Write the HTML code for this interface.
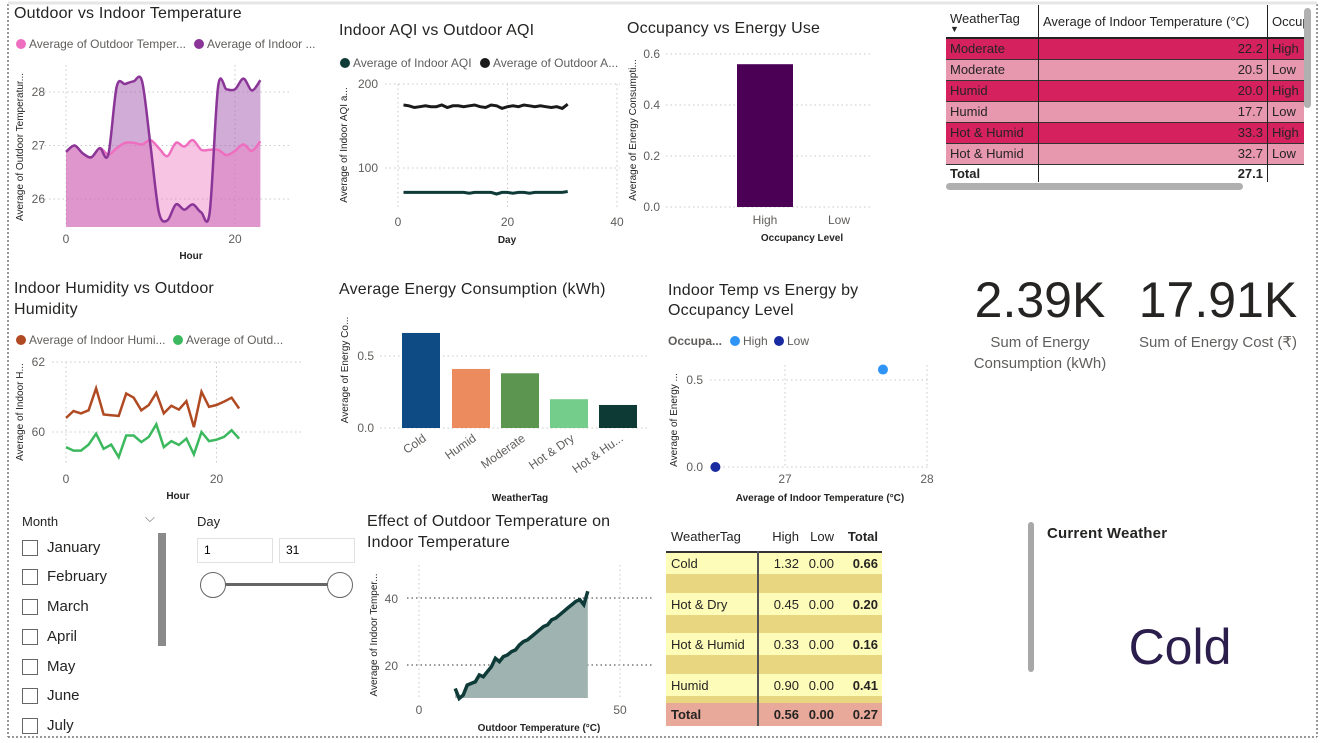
<!DOCTYPE html>
<html><head><meta charset="utf-8">
<style>
body{margin:0;width:1342px;height:743px;overflow:hidden;background:#fff;font-family:"Liberation Sans",sans-serif;position:relative}
.abs{position:absolute}
.t{position:absolute;font-size:16px;color:#252423;letter-spacing:0.2px}
svg text{font-family:"Liberation Sans",sans-serif}
table{border-collapse:collapse;font-size:13px}
.cb{position:absolute;left:22px;width:14px;height:14px;border:1px solid #666;background:#fff}
.cl{position:absolute;left:47px;font-size:15px;color:#252423}
</style></head><body>
<svg id="s" class="abs" style="left:0;top:0" width="1342" height="743">
 <line x1="8" y1="4" x2="8" y2="737" stroke="#777" stroke-dasharray="2,2" stroke-width="1.5"/>
 <line x1="1317" y1="4" x2="1317" y2="737" stroke="#777" stroke-dasharray="2,2" stroke-width="1.5"/>
 <line x1="8" y1="737" x2="1317" y2="737" stroke="#777" stroke-dasharray="2,2" stroke-width="1.5"/>
 <line x1="8" y1="3" x2="1317" y2="3" stroke="#e6e6e6" stroke-width="3"/>
 <g id="g"></g>
</svg>

<div class="t" style="left:14px;top:5px">Outdoor vs Indoor Temperature</div>
<div class="t" style="left:339px;top:22px">Indoor AQI vs Outdoor AQI</div>
<div class="t" style="left:627px;top:20px">Occupancy vs Energy Use</div>
<div class="t" style="left:14px;top:278px;line-height:21px">Indoor Humidity vs Outdoor<br>Humidity</div>
<div class="t" style="left:339px;top:281px">Average Energy Consumption (kWh)</div>
<div class="t" style="left:668px;top:281px;line-height:20px">Indoor Temp vs Energy by<br>Occupancy Level</div>
<div class="t" style="left:367px;top:511px;line-height:21px">Effect of Outdoor Temperature on<br>Indoor Temperature</div>

<!-- top-right table -->
<div class="abs" style="left:946px;top:5px;width:358px;height:180px;overflow:hidden">
<table style="width:400px;font-size:13px;color:#252423">
<tr style="height:33px;border-bottom:2px solid #222"><td style="width:84px;padding:0 4px;vertical-align:top;padding-top:6px;border-right:1px solid #222">WeatherTag<div style="font-size:9px;line-height:7px">▼</div></td><td style="width:220px;padding:0 4px;border-right:1px solid #222">Average of Indoor Temperature (°C)</td><td style="padding:0 4px">Occupancy</td></tr>
<tr style="height:21px;background:#d6215f;border-bottom:1px solid #333"><td style="padding:0 4px;border-right:1px solid #222">Moderate</td><td style="text-align:right;padding:0 4px;border-right:1px solid #222">22.2</td><td style="padding:0 4px">High</td></tr>
<tr style="height:21px;background:#e797ae;border-bottom:1px solid #333"><td style="padding:0 4px;border-right:1px solid #222">Moderate</td><td style="text-align:right;padding:0 4px;border-right:1px solid #222">20.5</td><td style="padding:0 4px">Low</td></tr>
<tr style="height:21px;background:#d6215f;border-bottom:1px solid #333"><td style="padding:0 4px;border-right:1px solid #222">Humid</td><td style="text-align:right;padding:0 4px;border-right:1px solid #222">20.0</td><td style="padding:0 4px">High</td></tr>
<tr style="height:21px;background:#e797ae;border-bottom:1px solid #333"><td style="padding:0 4px;border-right:1px solid #222">Humid</td><td style="text-align:right;padding:0 4px;border-right:1px solid #222">17.7</td><td style="padding:0 4px">Low</td></tr>
<tr style="height:21px;background:#d6215f;border-bottom:1px solid #333"><td style="padding:0 4px;border-right:1px solid #222">Hot &amp; Humid</td><td style="text-align:right;padding:0 4px;border-right:1px solid #222">33.3</td><td style="padding:0 4px">High</td></tr>
<tr style="height:21px;background:#e797ae;border-bottom:1px solid #333"><td style="padding:0 4px;border-right:1px solid #222">Hot &amp; Humid</td><td style="text-align:right;padding:0 4px;border-right:1px solid #222">32.7</td><td style="padding:0 4px">Low</td></tr>
<tr style="height:18px;font-weight:bold"><td style="padding:0 4px;border-right:1px solid #222">Total</td><td style="text-align:right;padding:0 4px;border-right:1px solid #222">27.1</td><td style="border-right:1px solid #222"></td></tr>
</table></div>
<div class="abs" style="left:1304px;top:8px;width:7px;height:100px;background:#b0b0b0;border-radius:4px"></div>
<div class="abs" style="left:946px;top:183px;width:297px;height:7px;background:#b0b0b0;border-radius:4px"></div>

<!-- KPI cards -->
<div class="abs" style="left:950px;top:270px;width:180px;text-align:center">
<div style="font-size:50px;color:#252423;line-height:60px">2.39K</div>
<div style="font-size:15px;color:#605e5c;line-height:21px;margin-top:2px">Sum of Energy<br>Consumption (kWh)</div></div>
<div class="abs" style="left:1125px;top:270px;width:186px;text-align:center">
<div style="font-size:50px;color:#252423;line-height:60px">17.91K</div>
<div style="font-size:15px;color:#605e5c;line-height:21px;margin-top:2px">Sum of Energy Cost (₹)</div></div>

<!-- current weather -->
<div class="abs" style="left:1028px;top:522px;width:6px;height:150px;background:#a8a8a8;border-radius:3px"></div>
<div class="t" style="left:1047px;top:525px;font-weight:bold;font-size:15px">Current Weather</div>
<div class="abs" style="left:1100px;top:618px;width:160px;text-align:center;font-size:50px;color:#2c1e4c">Cold</div>

<!-- matrix -->
<div class="abs" style="left:666px;top:522px">
<table style="width:216px;font-size:13px;color:#252423">
<tr style="height:30px;border-bottom:2px solid #333"><td style="width:86px;padding-left:5px">WeatherTag</td><td style="width:40px;text-align:right;padding-right:4px">High</td><td style="width:30px;text-align:right;padding-right:4px">Low</td><td style="text-align:right;padding-right:4px;font-weight:bold">Total</td></tr>
<tr style="height:22px;background:#fdfcb8"><td style="padding-left:5px;border-right:2px solid #555">Cold</td><td style="text-align:right;padding-right:4px">1.32</td><td style="text-align:right;padding-right:4px">0.00</td><td style="text-align:right;padding-right:4px;font-weight:bold">0.66</td></tr>
<tr style="height:19px;background:#e8d680"><td style="border-right:2px solid #555"></td><td></td><td></td><td></td></tr>
<tr style="height:22px;background:#fdfcb8"><td style="padding-left:5px;border-right:2px solid #555">Hot &amp; Dry</td><td style="text-align:right;padding-right:4px">0.45</td><td style="text-align:right;padding-right:4px">0.00</td><td style="text-align:right;padding-right:4px;font-weight:bold">0.20</td></tr>
<tr style="height:18px;background:#e8d680"><td style="border-right:2px solid #555"></td><td></td><td></td><td></td></tr>
<tr style="height:22px;background:#fdfcb8"><td style="padding-left:5px;border-right:2px solid #555">Hot &amp; Humid</td><td style="text-align:right;padding-right:4px">0.33</td><td style="text-align:right;padding-right:4px">0.00</td><td style="text-align:right;padding-right:4px;font-weight:bold">0.16</td></tr>
<tr style="height:19px;background:#e8d680"><td style="border-right:2px solid #555"></td><td></td><td></td><td></td></tr>
<tr style="height:22px;background:#fdfcb8"><td style="padding-left:5px;border-right:2px solid #555">Humid</td><td style="text-align:right;padding-right:4px">0.90</td><td style="text-align:right;padding-right:4px">0.00</td><td style="text-align:right;padding-right:4px;font-weight:bold">0.41</td></tr>
<tr style="height:7px;background:#e8d680"><td style="border-right:2px solid #555"></td><td></td><td></td><td></td></tr>
<tr style="height:23px;background:#e8a89a;font-weight:bold"><td style="padding-left:5px;border-right:2px solid #555">Total</td><td style="text-align:right;padding-right:4px">0.56</td><td style="text-align:right;padding-right:4px">0.00</td><td style="text-align:right;padding-right:4px">0.27</td></tr>
</table></div>

<!-- slicers -->
<div class="abs" style="left:22px;top:514px;font-size:13px;color:#252423">Month</div>
<div class="abs" style="left:145px;top:510px;font-size:13px;color:#666">⌵</div>
<div class="abs" style="left:158px;top:533px;width:8px;height:113px;background:#8a8a8a"></div>
<div class="cb" style="top:540px"></div><div class="cl" style="top:539px">January</div>
<div class="cb" style="top:569px"></div><div class="cl" style="top:568px">February</div>
<div class="cb" style="top:599px"></div><div class="cl" style="top:598px">March</div>
<div class="cb" style="top:629px"></div><div class="cl" style="top:628px">April</div>
<div class="cb" style="top:659px"></div><div class="cl" style="top:658px">May</div>
<div class="cb" style="top:688px"></div><div class="cl" style="top:687px">June</div>
<div class="cb" style="top:718px"></div><div class="cl" style="top:717px">July</div>
<div class="abs" style="left:197px;top:514px;font-size:13px;color:#252423">Day</div>
<div class="abs" style="left:197px;top:538px;width:68px;height:23px;border:1px solid #e1e1e1;font-size:12px;line-height:23px;padding-left:6px">1</div>
<div class="abs" style="left:279px;top:538px;width:68px;height:23px;border:1px solid #e1e1e1;font-size:12px;line-height:23px;padding-left:6px">31</div>
<div class="abs" style="left:213px;top:583px;width:127px;height:3px;background:#666"></div>
<div class="abs" style="left:200px;top:572px;width:24px;height:24px;border:1.5px solid #666;border-radius:50%;background:#fff"></div>
<div class="abs" style="left:327px;top:572px;width:24px;height:24px;border:1.5px solid #666;border-radius:50%;background:#fff"></div>

<script>
// ---- chart data ----
const hours = [0,1,2,3,4,5,6,7,8,9,10,11,12,13,14,15,16,17,18,19,20,21,22,23];
const outdoorTemp = [26.88,27.0,26.85,26.78,26.95,26.83,26.95,27.05,27.05,27.02,27.1,26.95,26.8,27.05,26.98,27.1,26.92,26.92,26.92,26.82,26.9,27.02,26.9,27.08];
const indoorTemp = [26.88,27.0,26.85,26.78,26.95,26.83,28.1,28.15,28.2,28.2,27.0,25.75,25.6,25.9,25.8,25.9,25.75,25.75,28.1,28.05,28.05,28.25,28.03,28.22];
const tempTicks = [26,27,28];
const days = [1,2,3,4,5,6,7,8,9,10,11,12,13,14,15,16,17,18,19,20,21,22,23,24,25,26,27,28,29,30,31];
const outdoorAQI = [175,174,172,173,174,173,173,175,172,174,174,173,174,175,173,172,175,174,171,173,174,173,175,174,173,174,173,172,173,171,176];
const indoorAQI = [71,71,71,71,71,71,71,71,71,71,71,71,70,71,71,71,71,69,71,71,70,71,71,70,71,71,71,71,71,71,72];
const aqiTicks = [100,200];
const dayTicks = [0,20,40];
const occLevels = ['High','Low'];
const occEnergy = [0.56,0];
const occTicks = [0.0,0.2,0.4,0.6];
const indoorHum = [60.4,60.6,60.53,60.62,61.25,60.5,60.48,60.46,61.1,60.98,60.62,60.77,61.12,60.53,60.75,60.64,60.88,60.14,61.15,60.72,60.77,60.87,60.98,60.67];
const outdoorHum = [59.57,59.47,59.47,59.64,59.95,59.52,59.64,59.28,59.9,59.9,59.71,59.86,60.22,59.57,59.74,59.63,59.81,59.36,60.0,59.74,59.78,59.86,60.05,59.81];
const humTicks = [60,62];
const weatherTags = ['Cold','Humid','Moderate','Hot & Dry','Hot & Hu...'];
const avgEnergy = [0.66,0.41,0.38,0.20,0.16];
const barColors = ['#0e4a84','#ec8c5e','#5b9550','#74cd8a','#0d3a35'];
const energyTicks = [0.0,0.5];
const scatterOcc = ['High','Low'];
const scatterTemp = [27.69,26.51];
const scatterEnergy = [0.56,0.0];
const outdoorT = [9,10,11,12,13,14,15,16,17,18,19,20,21,22,23,24,25,26,27,28,29,30,31,32,33,34,35,36,37,38,39,40,41,42];
const indoorT = [13,10,11,14,14.5,15,17,16.5,18,19.5,22,21,22.5,23,24,24.5,26,27,27.5,28.5,29.5,30.5,31.5,32,33.5,34,35,36,37,38,39,39.5,38,42];

const NS='http://www.w3.org/2000/svg';
const G=document.getElementById('g');
function el(tag,attrs,parent,name,inter){const e=document.createElementNS(NS,tag);for(const k in attrs)e.setAttribute(k,attrs[k]);(parent||G).appendChild(e);


return e;}
function txt(x,y,s,opts,name){const e=el('text',Object.assign({x:x,y:y,'font-size':12,fill:'#605e5c'},opts||{}),G,name||'label');e.textContent=s;return e;}
function lin(d0,d1,r0,r1){return v=>r0+(v-d0)/(d1-d0)*(r1-r0);}
function hgrid(y,x0,x1){el('line',{x1:x0,x2:x1,y1:y,y2:y,stroke:'#c8c8c8','stroke-dasharray':'1.5,3'},G,'gridline');}
function vgrid(x,y0,y1){el('line',{x1:x,x2:x,y1:y0,y2:y1,stroke:'#c8c8c8','stroke-dasharray':'1.5,3'},G,'gridline');}
function legend(x,y,items){let cx=x;items.forEach(it=>{el('circle',{cx:cx+5,cy:y-4,r:5,fill:it[1]},G,'legend-marker');const t=txt(cx+13,y,it[0],{'font-size':12},'legend-entry');cx+=it[2];});}
function ytitle(x,y,s){txt(0,0,s,{'font-size':10,fill:'#252423',transform:`translate(${x},${y}) rotate(-90)`,'text-anchor':'middle'},'y-axis-title');}
function path(xs,ys,sx,sy){return xs.map((v,i)=>(i?'L':'M')+sx(v).toFixed(1)+','+sy(ys[i]).toFixed(1)).join('');}
function spath(xs,ys,sx,sy){const P=xs.map((v,i)=>[sx(v),sy(ys[i])]);let d='M'+P[0][0]+','+P[0][1];
 for(let i=0;i<P.length-1;i++){const p0=P[i-1]||P[i],p1=P[i],p2=P[i+1],p3=P[i+2]||p2;const t=0.16;
 d+=`C${(p1[0]+(p2[0]-p0[0])*t).toFixed(1)},${(p1[1]+(p2[1]-p0[1])*t).toFixed(1)} ${(p2[0]-(p3[0]-p1[0])*t).toFixed(1)},${(p2[1]-(p3[1]-p1[1])*t).toFixed(1)} ${p2[0].toFixed(1)},${p2[1].toFixed(1)}`;}return d;}

// Chart 1 temp
(function(){const sx=lin(0,20,66,235),sy=lin(26,28,199,92),base=227;
 tempTicks.forEach(t=>{hgrid(sy(t),40,290);txt(45,sy(t)+4,t,{'font-size':12,'text-anchor':'end'},'y-tick');});
 [0,20].forEach(t=>{vgrid(sx(t),65,227);txt(sx(t),243,t,{'text-anchor':'middle'},'x-tick');});
 const area=(ys)=>spath(hours,ys,sx,sy)+`L${sx(23)},${base}L${sx(0)},${base}Z`;
 el('path',{d:area(indoorTemp),fill:'#a45aae','fill-opacity':0.5},G,'indoor-area');
 el('path',{d:area(outdoorTemp),fill:'#ee7cc4','fill-opacity':0.45},G,'outdoor-area');
 el('path',{d:spath(hours,outdoorTemp,sx,sy),fill:'none',stroke:'#ee6fbf','stroke-width':2.5},G,'outdoor-line');
 el('path',{d:spath(hours,indoorTemp,sx,sy),fill:'none',stroke:'#8a3597','stroke-width':2.5},G,'indoor-line');
 legend(16,48,[['Average of Outdoor Temper...','#ee6fbf',178],['Average of Indoor ...','#8a3597',0]]);
 ytitle(23,147,'Average of Outdoor Temperatur...');
 txt(191,259,'Hour',{'font-size':10,fill:'#252423','text-anchor':'middle','font-weight':'bold'},'x-axis-title');
})();
// Chart 2 AQI
(function(){const sx=lin(0,40,398,617),sy=lin(100,200,168,84);
 aqiTicks.forEach(t=>{hgrid(sy(t),385,620);txt(378,sy(t)+4,t,{'text-anchor':'end'},'y-tick');});
 dayTicks.forEach(t=>{vgrid(sx(t),84,207);txt(sx(t),226,t,{'text-anchor':'middle'},'x-tick');});
 el('path',{d:path(days,outdoorAQI,sx,sy),fill:'none',stroke:'#1a1a1a','stroke-width':3},G,'outdoor-aqi-line');
 el('path',{d:path(days,indoorAQI,sx,sy),fill:'none',stroke:'#0e3b37','stroke-width':3},G,'indoor-aqi-line');
 legend(340,67,[['Average of Indoor AQI','#0e3b37',140],['Average of Outdoor A...','#1a1a1a',0]]);
 ytitle(347,145,'Average of Indoor AQI a...');
 txt(507,243,'Day',{'font-size':10,fill:'#252423','text-anchor':'middle','font-weight':'bold'},'x-axis-title');
})();
// Chart 3 occupancy
(function(){const sy=lin(0,0.6,207,54),cx=[765,839];
 occTicks.forEach(t=>{hgrid(sy(t),666,870);txt(660,sy(t)+4,t.toFixed(1),{'text-anchor':'end'},'y-tick');});
 occLevels.forEach((c,i)=>{el('rect',{x:cx[i]-28,y:sy(occEnergy[i]),width:56,height:sy(0)-sy(occEnergy[i]),fill:'#4b0055'},G,'bar-'+c.toLowerCase());txt(cx[i],224,c,{'text-anchor':'middle'},'x-tick');});
 ytitle(636,130,'Average of Energy Consumpti...');
 txt(802,241,'Occupancy Level',{'font-size':10,fill:'#252423','text-anchor':'middle','font-weight':'bold'},'x-axis-title');
})();
// Chart 4 humidity
(function(){const sx=lin(0,20,66,216.5),sy=lin(60,62,432,362);
 humTicks.forEach(t=>{hgrid(sy(t),52,302);txt(45,sy(t)+4,t,{'text-anchor':'end'},'y-tick');});
 [0,20].forEach(t=>{vgrid(sx(t),362,465);txt(sx(t),483,t,{'text-anchor':'middle'},'x-tick');});
 el('path',{d:path(hours,indoorHum,sx,sy),fill:'none',stroke:'#b04a22','stroke-width':2.5},G,'indoor-humidity-line');
 el('path',{d:path(hours,outdoorHum,sx,sy),fill:'none',stroke:'#3cb95e','stroke-width':2.5},G,'outdoor-humidity-line');
 legend(16,344,[['Average of Indoor Humi...','#b04a22',157],['Average of Outd...','#3cb95e',0]]);
 ytitle(23,412,'Average of Indoor H...');
 txt(178,499,'Hour',{'font-size':10,fill:'#252423','text-anchor':'middle','font-weight':'bold'},'x-axis-title');
})();
// Chart 5 bar
(function(){const sy=lin(0,0.5,428,356),cx=[421,471,520,569,618];
 energyTicks.forEach(t=>{hgrid(sy(t),380,650);txt(374,sy(t)+4,t.toFixed(1),{'text-anchor':'end'},'y-tick');});
 weatherTags.forEach((c,i)=>{el('rect',{x:cx[i]-19,y:sy(avgEnergy[i]),width:38,height:sy(0)-sy(avgEnergy[i]),fill:barColors[i]},G,'bar-'+i);
  txt(0,0,c,{'text-anchor':'end',transform:`translate(${cx[i]+6},${440}) rotate(-35)`},'x-tick');});
 ytitle(348,370,'Average of Energy Co...');
 txt(520,501,'WeatherTag',{'font-size':10,fill:'#252423','text-anchor':'middle','font-weight':'bold'},'x-axis-title');
})();
// Chart 6 scatter
(function(){const sx=lin(27,28,785,927),sy=lin(0,0.5,467,380);
 [0,0.5].forEach(t=>{hgrid(sy(t),710,930);txt(703,sy(t)+4,t.toFixed(1),{'text-anchor':'end'},'y-tick');});
 [27,28].forEach(t=>{vgrid(sx(t),365,467);txt(sx(t),483,t,{'text-anchor':'middle'},'x-tick');});
 const cols={High:'#2e94f5',Low:'#1a2aa0'};
 scatterOcc.forEach((o,i)=>el('circle',{cx:sx(scatterTemp[i]),cy:sy(scatterEnergy[i]),r:5,fill:cols[o]},G,'point-'+o.toLowerCase()));
 txt(668,345,'Occupa...',{'font-size':12,'font-weight':'bold'},'legend-title');
 legend(730,345,[['High','#2e94f5',44],['Low','#1a2aa0',0]]);
 ytitle(677,420,'Average of Energy ...');
 txt(820,501,'Average of Indoor Temperature (°C)',{'font-size':10,fill:'#252423','text-anchor':'middle','font-weight':'bold'},'x-axis-title');
})();
// Chart 7 area
(function(){const sx=lin(0,50,419,620),sy=lin(20,40,665,598),base=698;
 [20,40].forEach(t=>{el('line',{x1:407,x2:653,y1:sy(t),y2:sy(t),stroke:'#333','stroke-dasharray':'1.5,3'},G,'gridline');txt(398,sy(t)+5,t,{'text-anchor':'end'},'y-tick');});
 [0,50].forEach(t=>{vgrid(sx(t),565,698);txt(sx(t),714,t,{'text-anchor':'middle'},'x-tick');});
 const n=outdoorT.length-1;
 el('path',{d:path(outdoorT,indoorT,sx,sy)+`L${sx(outdoorT[n])},${base}L${sx(outdoorT[0])},${base}Z`,fill:'#9fb3b1'},G,'indoor-temp-area');
 el('path',{d:path(outdoorT,indoorT,sx,sy),fill:'none',stroke:'#0e3b37','stroke-width':3.5},G,'indoor-temp-line');
 ytitle(377,635,'Average of Indoor Temper...');
 txt(539,731,'Outdoor Temperature (°C)',{'font-size':10,fill:'#252423','text-anchor':'middle','font-weight':'bold'},'x-axis-title');
})();
</script>
</body></html>
